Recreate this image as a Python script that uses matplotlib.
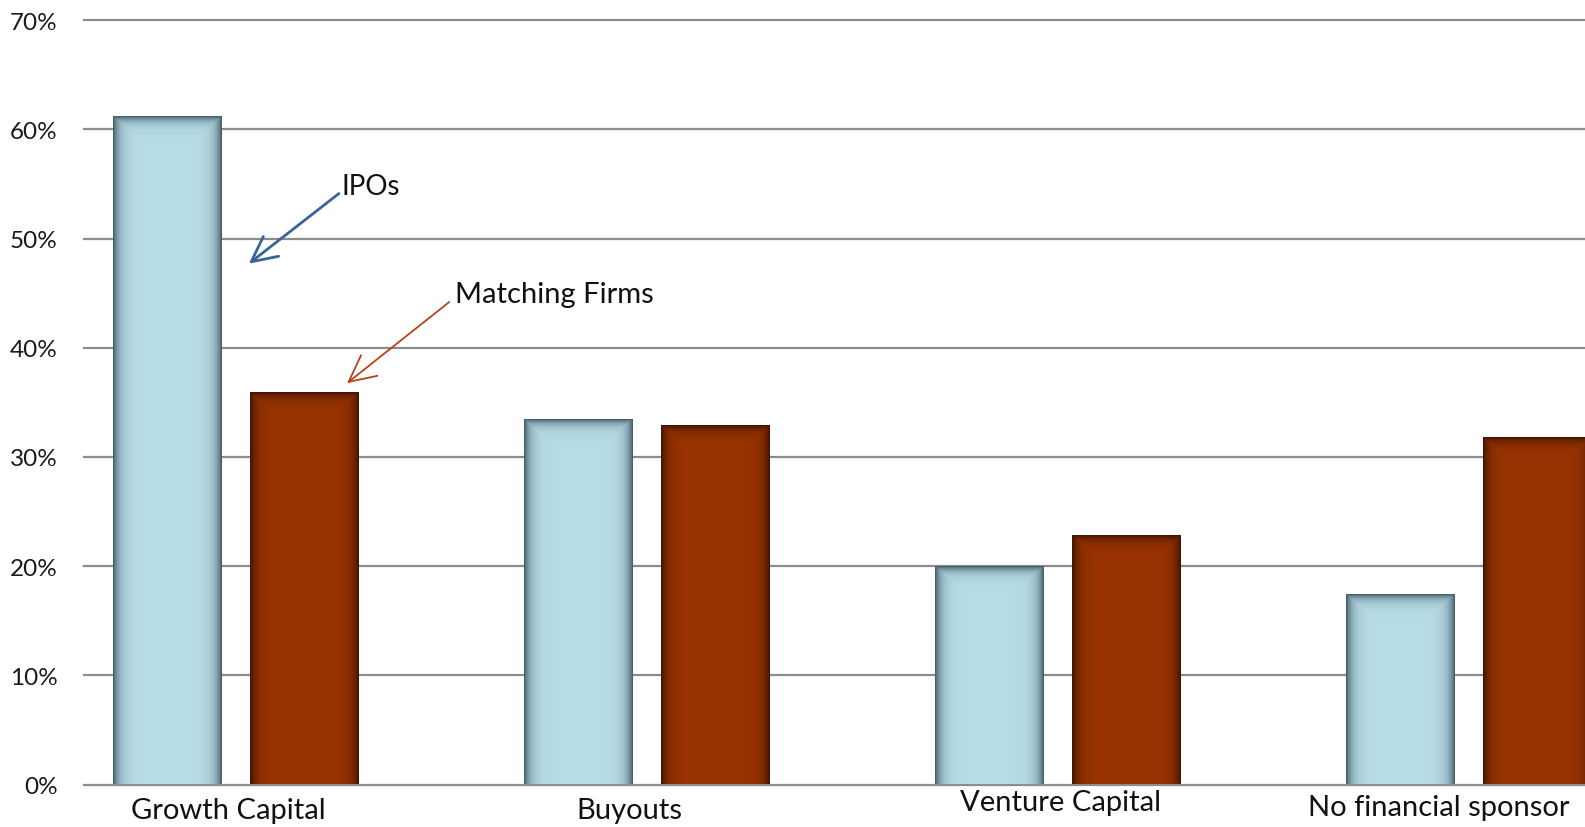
import numpy as np
import matplotlib
matplotlib.use('Agg')
import matplotlib.pyplot as plt
from matplotlib.colors import to_rgb

# data (percent)
categories = ['Growth Capital', 'Buyouts', 'Venture Capital', 'No financial sponsor']
ipos = [61.1, 33.4, 19.9, 17.4]
matching = [35.9, 32.8, 22.8, 31.7]
yticks = [0, 10, 20, 30, 40, 50, 60, 70]

plt.rcParams['font.family'] = ['Lato', 'DejaVu Sans']

fig = plt.figure(figsize=(15.85, 8.28), dpi=100)
ax = fig.add_axes([84 / 1585, 1 - 785.5 / 828, 1 - 84 / 1585, (785.5 - 21.2) / 828])

x = np.arange(len(categories))
w = 0.263
off = 0.167

ipo_col = '#b7dde8'
ipo_edge = '#3d5560'
mf_col = '#993300'
mf_edge = '#3c1200'

b1 = ax.bar(x - off, ipos, w, color=ipo_col, zorder=3)
b2 = ax.bar(x + off, matching, w, color=mf_col, zorder=3)

# px per data unit, for the bevel shading
px_x = 411.1
px_y = 764.3 / 70


def shade(bars, base, edge):
    c0 = np.array(to_rgb(base))
    c1 = np.array(to_rgb(edge))
    for p in bars:
        x0, y0 = p.get_x(), p.get_y()
        bw, bh = p.get_width(), p.get_height()
        nx = max(int(bw * px_x), 2)
        ny = max(int(bh * px_y), 2)
        xs = np.arange(nx) + 0.5
        ys = np.arange(ny) + 0.5
        dx = np.minimum(xs, nx - xs)[None, :]
        dy = ys[:, None]
        # sides and top darken (image row 0 = top)
        t = np.maximum(np.exp(-dx / 6.0), np.exp(-dy / 5.0))
        img = c0[None, None, :] * (1 - t[..., None]) + c1[None, None, :] * t[..., None]
        ax.imshow(img, extent=(x0, x0 + bw, y0, y0 + bh), aspect='auto',
                  interpolation='bilinear', zorder=3.5, origin='upper')
        p.set_visible(False)


shade(b1, ipo_col, ipo_edge)
shade(b2, mf_col, mf_edge)

ax.set_xlim(-0.369, 3.283)
ax.set_ylim(0, 70)
ax.set_yticks(yticks)
ax.set_yticklabels([f'{v}%' for v in yticks], fontsize=17.5, color='#1a1a1a')
ax.tick_params(axis='y', length=0, pad=19)
ax.set_xticks([])
for y in yticks:
    ax.axhline(y, color='#8c8c8c', lw=1.6, zorder=1, clip_on=False)
for s in ax.spines.values():
    s.set_visible(False)

# category labels, placed as in the picture
lab_dx = [-0.017, -0.043, 0.008, -0.073]
lab_dy = [-26, -26, -18, -23]
for i, c in enumerate(categories):
    ax.annotate(c, (x[i] + lab_dx[i], 0), xytext=(0, lab_dy[i]), textcoords='offset pixels',
                ha='center', va='center', fontsize=21, color='#111111', annotation_clip=False)

ax.annotate('IPOs', xy=(0.032, 47.7), xytext=(0.258, 54.8), fontsize=20, va='center',
            color='#111111',
            arrowprops=dict(arrowstyle='->,head_length=0.9,head_width=0.45', color='#3a6496',
                            lw=2, shrinkA=0, shrinkB=0,
                            relpos=(0, 0.3)))
ax.annotate('Matching Firms', xy=(0.271, 36.76), xytext=(0.534, 44.9), fontsize=21, va='center',
            color='#111111',
            arrowprops=dict(arrowstyle='->,head_length=0.9,head_width=0.45', color='#b5441a',
                            lw=1.3, shrinkA=0, shrinkB=0,
                            relpos=(-0.03, 0.2)))

fig.savefig('out.png', dpi=100)
